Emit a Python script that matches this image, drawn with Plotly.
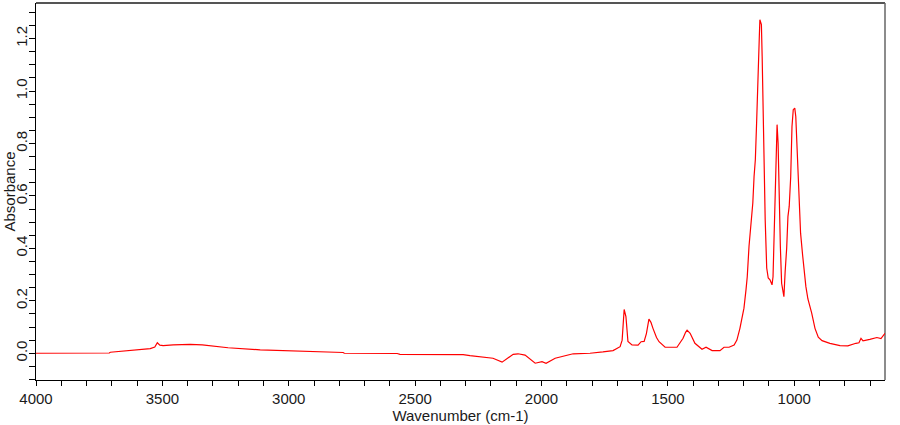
import plotly.graph_objects as go

# Spectrum values (wavenumber in cm-1, absorbance)
wavenumber = [
    4000, 3800, 3710, 3706, 3667, 3640, 3603, 3548, 3530, 3520, 3510, 3497, 3457, 3390,
    3342, 3303, 3240, 3113, 2982, 2960, 2836, 2785, 2780, 2571, 2560, 2310, 2283, 2192,
    2156, 2112, 2093, 2065, 2025, 1998, 1982, 1946, 1875, 1808, 1757, 1717, 1689, 1681,
    1673, 1666, 1658, 1642, 1618, 1606, 1594, 1585, 1575, 1567, 1559, 1545, 1535, 1511, 1464, 1440, 1430, 1424,
    1412, 1400, 1393, 1365, 1349, 1325, 1294, 1278, 1258, 1238, 1227, 1215, 1203, 1199, 1191,
    1186, 1179, 1171, 1164, 1159, 1154, 1149, 1144, 1138, 1136, 1130, 1127, 1123, 1119,
    1115, 1109, 1103, 1096, 1088, 1084, 1078, 1072, 1068, 1064, 1060, 1055, 1050, 1045,
    1041, 1036, 1030, 1025, 1020, 1014, 1009, 1004, 998, 994, 989, 984, 980, 975, 967,
    960, 954, 946, 931, 918, 905, 890, 859, 819, 788, 756, 744, 736, 728, 701, 673, 657,
    641,
]
absorbance = [
    0.000, 0.000, 0.001, 0.004, 0.008, 0.011, 0.014, 0.018, 0.024, 0.040, 0.031, 0.029, 0.032, 0.034,
    0.032, 0.028, 0.021, 0.013, 0.010, 0.008, 0.005, 0.003, 0.000, -0.001, -0.004, -0.005, -0.009, -0.019,
    -0.034, -0.004, -0.002, -0.007, -0.038, -0.032, -0.038, -0.019, -0.002, 0.000, 0.005, 0.010, 0.025, 0.050,
    0.167, 0.140, 0.045, 0.032, 0.031, 0.044, 0.045, 0.075, 0.130, 0.118, 0.095, 0.060, 0.044, 0.023, 0.023, 0.057, 0.080, 0.088,
    0.076, 0.050, 0.038, 0.015, 0.023, 0.010, 0.010, 0.023, 0.023, 0.031, 0.050, 0.095, 0.165, 0.172, 0.242,
    0.292, 0.408, 0.497, 0.573, 0.674, 0.738, 0.878, 1.082, 1.215, 1.272, 1.254, 1.132, 0.865, 0.700,
    0.509, 0.325, 0.287, 0.280, 0.261, 0.292, 0.521, 0.827, 0.872, 0.802, 0.547, 0.407, 0.267, 0.229,
    0.216, 0.312, 0.401, 0.521, 0.560, 0.674, 0.865, 0.929, 0.935, 0.903, 0.788, 0.712, 0.604, 0.458, 0.375,
    0.305, 0.254, 0.207, 0.153, 0.095, 0.061, 0.048, 0.038, 0.029, 0.028, 0.038, 0.040, 0.057, 0.047, 0.053, 0.060, 0.056,
    0.076,
]

x_title = "Wavenumber (cm-1)"
y_title = "Absorbance"

FONT = "Liberation Sans, Arial, sans-serif"
TXT = "#1a1a1a"

fig = go.Figure()
fig.add_trace(go.Scatter(
    x=wavenumber, y=absorbance, mode="lines",
    line=dict(color="#ff0000", width=1.2), hoverinfo="skip",
))

fig.update_layout(
    width=900, height=425,
    margin=dict(l=36, r=15, t=3, b=45),
    paper_bgcolor="white", plot_bgcolor="white",
    showlegend=False,
    font=dict(family=FONT, size=15, color=TXT),
    xaxis=dict(
        range=[4000, 641], dtick=500, tick0=0,
        ticks="outside", ticklen=5, tickcolor="black", tickwidth=1,
        showline=True, linecolor="black", linewidth=1,
        showgrid=False, zeroline=False,
        tickfont=dict(family=FONT, size=15, color=TXT),
        minor=dict(dtick=100, tick0=0, ticks="outside", ticklen=5, tickcolor="black", showgrid=False),
        title=dict(text=x_title, font=dict(family=FONT, size=15, color=TXT), standoff=2),
    ),
    yaxis=dict(
        range=[-0.102, 1.336], dtick=0.2, tick0=0, tickformat=".1f",
        ticks="outside", ticklen=6, tickcolor="black", tickwidth=1,
        showline=True, linecolor="black", linewidth=1,
        showgrid=False, zeroline=False, tickangle=-90, ticklabelstandoff=-4,
        tickfont=dict(family=FONT, size=15, color=TXT),
        minor=dict(dtick=0.05, tick0=0, ticks="outside", ticklen=6, tickcolor="black", showgrid=False),
    ),
    shapes=[
        dict(type="line", xref="paper", yref="paper", x0=0, x1=1, y0=1, y1=1,
             line=dict(color="#555555", width=2), layer="below"),
        dict(type="line", xref="paper", yref="paper", x0=1, x1=1, y0=0, y1=1,
             line=dict(color="#666666", width=1.5), layer="below"),
    ],
    annotations=[
        dict(text=y_title, xref="paper", yref="paper", x=(9 - 36) / 849, y=0.5,
             xanchor="center", yanchor="middle", textangle=-90, showarrow=False,
             font=dict(family=FONT, size=15, color=TXT)),
    ],
)

fig.write_html("out.html")
